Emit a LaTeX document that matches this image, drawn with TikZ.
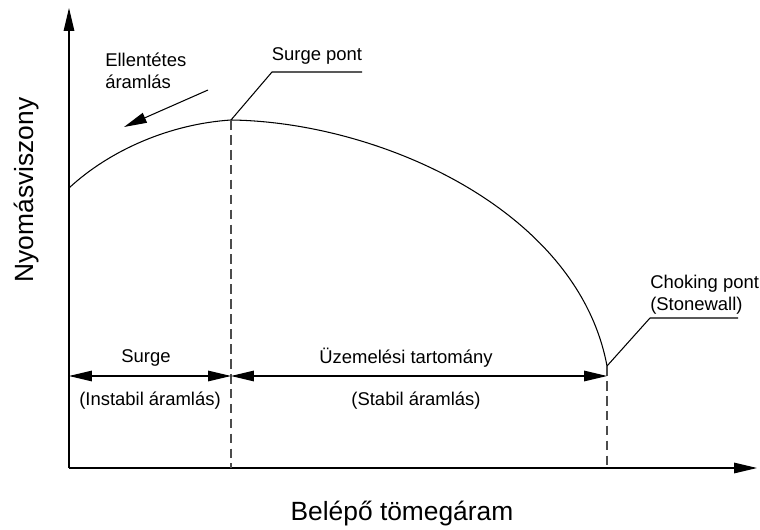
\documentclass[tikz,border=0pt]{standalone}
\usepackage{fontspec}
\setmainfont{Liberation Sans}
\usetikzlibrary{arrows.meta}

\begin{document}
\begin{tikzpicture}[x=0.02cm,y=-0.02cm,line width=0.6pt,
  tip/.style={-{Triangle[length=13pt,width=6pt]}},
  dim/.style={{Triangle[length=13pt,width=6pt]}-{Triangle[length=13pt,width=6pt]}},
  guide/.style={black!70,dash pattern=on 5.5pt off 3pt},
  lbl/.style={font=\fontsize{10.5}{12.5}\selectfont,inner sep=1pt},
  axislbl/.style={font=\fontsize{15}{18}\selectfont}]
\useasboundingbox (0,0) rectangle (760,530);
% Axes
\coordinate (O) at (69,468);
\coordinate (ytop) at (69,8);
\coordinate (xend) at (757,468);
\draw[tip] (O) -- (ytop);
\draw[tip] (O) -- (xend);
\node[axislbl,rotate=90] (ylab) at (27,190) {Nyomásviszony};
\node[axislbl] (xlab) at (402,514) {Belépő tömegáram};
% Characteristic
\coordinate (start) at (69,188);
\coordinate (surge) at (231,120);
\coordinate (choke) at (607,366);
\draw (start) .. controls (110,150) and (170,124) .. (surge)
  .. controls (380,122) and (578,210) .. (choke);
% Limits
\coordinate (surgefoot) at (231,468);
\coordinate (chokefoot) at (607,468);
\draw[guide] (surge) -- (surgefoot);
\draw[guide] (choke) -- (chokefoot);
% Ranges
\coordinate (ra) at (69,376);
\coordinate (rb) at (231,376);
\coordinate (rc) at (607,376);
\draw[dim] (ra) -- (rb);
\draw[dim] (rb) -- (rc);
\node[lbl] (surgetxt) at (146,358) {Surge};
\node[lbl] (instabil) at (150,401) {(Instabil áramlás)};
\node[lbl] (uzem) at (406,358) {Üzemelési tartomány};
\node[lbl] (stabil) at (416,401) {(Stabil áramlás)};
% Surge pont
\node[lbl] (surgelbl) at (317,56) {Surge pont};
\coordinate (sk) at (272,72);
\coordinate (se) at (362,72);
\draw (surge) -- (sk) -- (se);
% Choking pont
\node[lbl,align=left,anchor=west] (chokelbl) at (648,295) {Choking pont\\(Stonewall)};
\coordinate (ck) at (650,318);
\coordinate (ce) at (738,318);
\draw (choke) -- (ck) -- (ce);
% Backflow
\node[lbl,align=left,anchor=west] (backlbl) at (103,71) {Ellentétes\\áramlás};
\coordinate (bs) at (208,90);
\coordinate (be) at (124,127);
\draw[tip] (bs) -- (be);
\end{tikzpicture}
\end{document}
